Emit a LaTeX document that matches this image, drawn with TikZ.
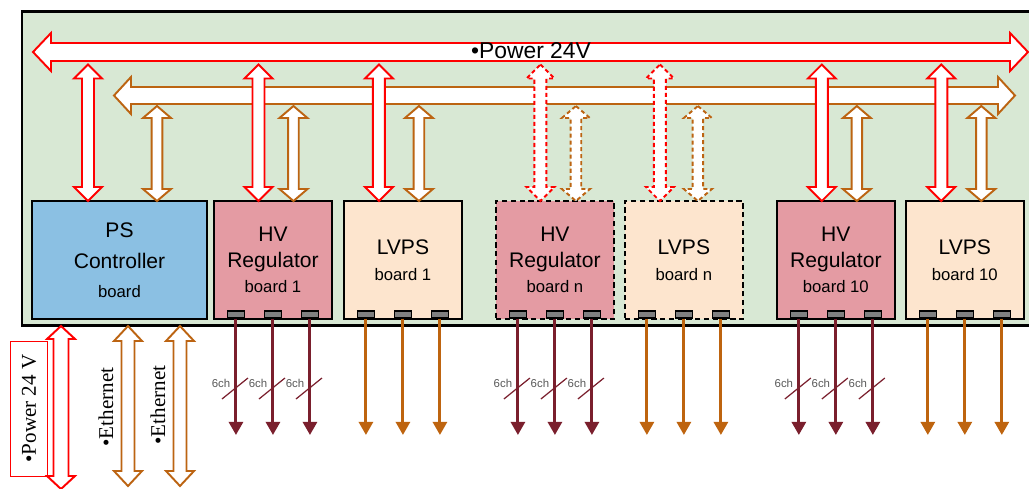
\documentclass[tikz,border=0pt]{standalone}
\usepackage{fontspec}
\setmainfont{Liberation Sans}
\newfontfamily\seriffont{Liberation Serif}
\usetikzlibrary{arrows.meta, positioning, calc}

\definecolor{framegreen}{RGB}{216,232,212}
\definecolor{busorange}{RGB}{188,100,18}
\definecolor{psblue}{RGB}{139,192,227}
\definecolor{hvpink}{RGB}{228,155,163}
\definecolor{lvpeach}{RGB}{253,229,206}
\definecolor{hvdark}{RGB}{122,31,45}
\definecolor{lvorange}{RGB}{190,100,15}

\tikzset{
  board/.style={rectangle, draw=black, line width=1.1pt, minimum width=2.36cm,
                minimum height=2.36cm, align=center, inner sep=0pt, outer sep=0pt,
                font=\fontsize{12}{14.5}\selectfont},
  psbox/.style={board, fill=psblue, minimum width=3.5cm},
  hvbox/.style={board, fill=hvpink},
  lvbox/.style={board, fill=lvpeach},
  spare/.style={dash pattern=on 3pt off 2pt},
  pad/.style={rectangle, draw=black, fill=black!50, line width=0.6pt,
              minimum width=0.34cm, minimum height=0.14cm, inner sep=0pt},
  pwr/.style={draw=red, fill=white, line width=1.1pt},
  eth/.style={draw=busorange, fill=white, line width=1.1pt},
  dashhollow/.style={dash pattern=on 2.3pt off 1.7pt},
  hvout/.style={draw=hvdark, line width=1.7pt, -{Triangle[width=8pt,length=7.5pt]}},
  lvout/.style={draw=lvorange, line width=1.7pt, -{Triangle[width=8pt,length=7.5pt]}},
  slash/.style={draw=hvdark, line width=0.7pt},
  chlabel/.style={font=\fontsize{6.5}{7}\selectfont, text=black!65, inner sep=0pt},
  vlabel/.style={font=\seriffont\fontsize{12}{14}\selectfont, rotate=90, inner sep=0pt},
}

% hollow double arrows: style, end A, end B, shaft half width, head half width, head length
\newcommand{\vhollow}[6]{%
  \draw[#1] (#2) -- ($(#2)+(#5,#6)$) -- ($(#2)+(#4,#6)$) -- ($(#3)+(#4,-#6)$)
    -- ($(#3)+(#5,-#6)$) -- (#3) -- ($(#3)+(-#5,-#6)$) -- ($(#3)+(-#4,-#6)$)
    -- ($(#2)+(-#4,#6)$) -- ($(#2)+(-#5,#6)$) -- cycle;}
\newcommand{\hhollow}[6]{%
  \draw[#1] (#2) -- ($(#2)+(#6,-#5)$) -- ($(#2)+(#6,-#4)$) -- ($(#3)+(-#6,-#4)$)
    -- ($(#3)+(-#6,-#5)$) -- (#3) -- ($(#3)+(-#6,#5)$) -- ($(#3)+(-#6,#4)$)
    -- ($(#2)+(#6,#4)$) -- ($(#2)+(#6,#5)$) -- cycle;}

\begin{document}
\begin{tikzpicture}[x=0.02cm, y=-0.02cm]
  \useasboundingbox (0,0) rectangle (1029,488);

  % crate
  \draw[line width=1.7pt, fill=framegreen] (22,11) rectangle (1045,325);

  % buses
  \coordinate (pwrl) at (33,52);
  \coordinate (pwrr) at (1028,52);
  \coordinate (ethl) at (114,95.5);
  \coordinate (ethr) at (1015,95.5);
  \hhollow{pwr}{pwrl}{pwrr}{9}{19}{18}
  \hhollow{eth}{ethl}{ethr}{8.5}{18.5}{17}
  \node[font=\fontsize{13}{15}\selectfont, inner sep=0pt] (pwrbus) at (531,51) {•Power 24V};

  % boards
  \node[psbox] (ps) at (119.5,260) {PS\\[3pt]Controller\\[2pt]{\fontsize{9.5}{11}\selectfont board}};
  \node[hvbox, right=0.14cm of ps] (hv1) {HV\\Regulator\\{\fontsize{9.5}{11}\selectfont board 1}};
  \node[lvbox, right=0.24cm of hv1] (lv1) {LVPS\\{\fontsize{9.5}{11}\selectfont board 1}};
  \node[hvbox, spare, right=0.68cm of lv1] (hvn) {HV\\Regulator\\{\fontsize{9.5}{11}\selectfont board n}};
  \node[lvbox, spare, right=0.22cm of hvn] (lvn) {LVPS\\{\fontsize{9.5}{11}\selectfont board n}};
  \node[hvbox, right=0.68cm of lvn] (hv10) {HV\\Regulator\\{\fontsize{9.5}{11}\selectfont board 10}};
  \node[lvbox, right=0.22cm of hv10] (lv10) {LVPS\\{\fontsize{9.5}{11}\selectfont board 10}};

  % taps from the buses
  \coordinate (pwrtap) at (0,64.5);
  \coordinate (ethtap) at (0,106);
  \foreach \bd/\r/\o/\s in {ps/-31.5/37.5/solid, hv1/-14.5/20.5/solid, lv1/-24/16/solid,
      hvn/-14.5/21/dashhollow, lvn/-24/14/dashhollow, hv10/-14/21/solid, lv10/-23.5/16.5/solid}{
    \coordinate (ob) at ($(\bd.north)+(\o,0)$);
    \coordinate (ot) at (ob |- ethtap);
    \coordinate (rb) at ($(\bd.north)+(\r,0)$);
    \coordinate (rt) at (rb |- pwrtap);
    \vhollow{eth,\s}{ot}{ob}{5.3}{14}{12}
    \vhollow{pwr,\s}{rt}{rb}{6}{14}{14}
  }

  % outputs
  \coordinate (outend) at (0,435);
  \coordinate (chmark) at (0,390);
  \foreach \bd in {hv1, hvn, hv10}{
    \foreach \d [count=\i] in {-37,0,37}{
      \node[pad] (\bd p\i) at ($(\bd.south)+(\d,-4.5)$) {};
      \draw[hvout] (\bd p\i.south) -- (\bd p\i.south |- outend);
      \draw[slash] ($(\bd p\i.south |- chmark)+(-14,9)$) -- ++(26,-21);
      \node[chlabel] at ($(\bd p\i.south |- chmark)+(-15,-7)$) {6ch};
    }
  }
  \foreach \bd in {lv1, lvn, lv10}{
    \foreach \d [count=\i] in {-37,0,37}{
      \node[pad] (\bd p\i) at ($(\bd.south)+(\d,-4.5)$) {};
      \draw[lvout] (\bd p\i.south) -- (\bd p\i.south |- outend);
    }
  }

  % external links
  \coordinate (pin) at (61,326);
  \coordinate (pout) at (61,489);
  \coordinate (e1in) at (128,326);
  \coordinate (e1out) at (128,486);
  \coordinate (e2in) at (180,326);
  \coordinate (e2out) at (180,486);
  \vhollow{pwr}{pin}{pout}{7.5}{14}{13}
  \vhollow{eth}{e1in}{e1out}{6.5}{14}{15}
  \vhollow{eth}{e2in}{e2out}{6.5}{14}{15}
  \node[vlabel, draw=red, line width=0.5pt, minimum width=2.7cm, minimum height=0.74cm] (pwrin) at (29,408.5) {•Power 24 V};
  \node[vlabel] (eth1) at (106,407) {•Ethernet};
  \node[vlabel] (eth2) at (158,405) {•Ethernet};
\end{tikzpicture}
\end{document}
